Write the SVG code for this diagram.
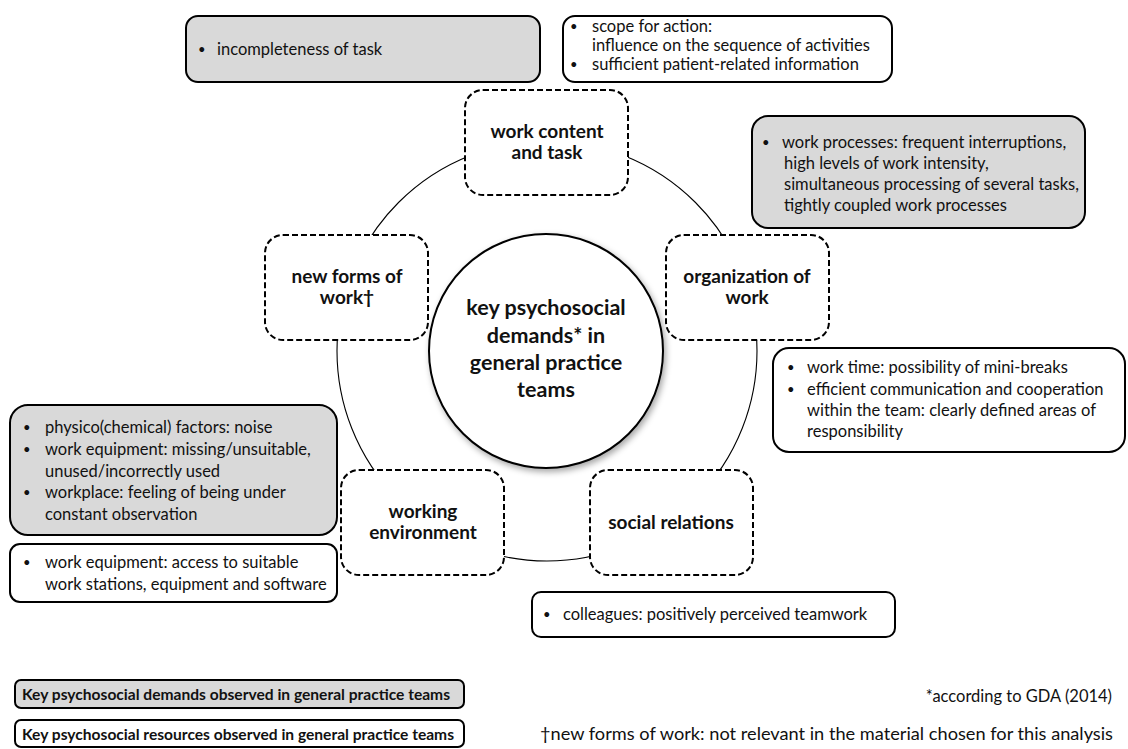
<svg xmlns="http://www.w3.org/2000/svg" width="1128" height="749" viewBox="0 0 1128 749">
<style>
text{font-family:Lato,"Liberation Sans",sans-serif;fill:#111}
.t{font-size:16.5px}
.bu{font-size:13px}
.b{font-size:19px;font-weight:bold;text-anchor:middle}
.c{font-size:21.5px;font-weight:bold;text-anchor:middle}
.lg{font-size:16px;font-weight:bold}
.fn{font-size:17.5px}
.dem{fill:#d9d9d9;stroke:#000;stroke-width:2}
.res{fill:#fff;stroke:#000;stroke-width:2}
.node{fill:#fff;stroke:#000;stroke-width:2;stroke-dasharray:6 3}
</style>
<defs>
<filter id="sh" x="-20%" y="-20%" width="140%" height="140%">
<feDropShadow dx="2" dy="3" stdDeviation="3" flood-color="#000" flood-opacity="0.35"/>
</filter>
</defs>
<rect width="1128" height="749" fill="#fff"/>
<g id="connectors">
<circle cx="547" cy="351" r="210" fill="none" stroke="#000" stroke-width="1.1"/>
</g>
<g id="center">
<circle cx="546" cy="351" r="117" fill="#fff" stroke="#000" stroke-width="2" filter="url(#sh)"/>
<text class="c" x="546" y="315">key psychosocial</text>
<text class="c" x="546" y="343">demands* in</text>
<text class="c" x="546" y="370">general practice</text>
<text class="c" x="546" y="397">teams</text>
</g>
<g id="node-work-content">
<rect class="node" x="465" y="90" width="163" height="105" rx="18"/>
<text class="b" x="547" y="138">work content</text>
<text class="b" x="547" y="159">and task</text>
</g>
<g id="node-new-forms">
<rect class="node" x="265" y="235" width="163" height="105" rx="18"/>
<text class="b" x="347" y="283">new forms of</text>
<text class="b" x="347" y="304">work†</text>
</g>
<g id="node-organization">
<rect class="node" x="666" y="235" width="163" height="105" rx="18"/>
<text class="b" x="747" y="283">organization of</text>
<text class="b" x="747" y="304">work</text>
</g>
<g id="node-working-env">
<rect class="node" x="341" y="470" width="163" height="105" rx="18"/>
<text class="b" x="423" y="518">working</text>
<text class="b" x="423" y="539">environment</text>
</g>
<g id="node-social">
<rect class="node" x="590" y="470" width="163" height="105" rx="18"/>
<text class="b" x="671" y="529">social relations</text>
</g>
<g id="box-incompleteness">
<rect class="dem" x="186" y="16" width="354" height="66" rx="12"/>
<text class="t bu" x="198" y="54">•</text>
<text class="t" x="217" y="55">incompleteness of task</text>
</g>
<g id="box-scope">
<rect class="res" x="563" y="16" width="329" height="66" rx="12"/>
<text class="t bu" x="570" y="31">•</text>
<text class="t" x="592" y="32">scope for action:</text>
<text class="t" x="592" y="51">influence on the sequence of activities</text>
<text class="t bu" x="570" y="69">•</text>
<text class="t" x="592" y="70">sufficient patient-related information</text>
</g>
<g id="box-work-processes">
<rect class="dem" x="752" y="116" width="333" height="112" rx="16"/>
<text class="t bu" x="762" y="147">•</text>
<text class="t" x="782" y="148">work processes: frequent interruptions,</text>
<text class="t" x="784" y="169">high levels of work intensity,</text>
<text class="t" x="784" y="190">simultaneous processing  of several tasks,</text>
<text class="t" x="784" y="211">tightly coupled work processes</text>
</g>
<g id="box-work-time">
<rect class="res" x="773" y="348" width="352" height="104" rx="16"/>
<text class="t bu" x="787" y="372">•</text>
<text class="t" x="807" y="373">work time: possibility of mini-breaks</text>
<text class="t bu" x="787" y="394">•</text>
<text class="t" x="807" y="395">efficient communication and cooperation</text>
<text class="t" x="807" y="416">within the team: clearly defined areas of</text>
<text class="t" x="807" y="437">responsibility</text>
</g>
<g id="box-physico">
<rect class="dem" x="10" y="405" width="327" height="130" rx="18"/>
<text class="t bu" x="23" y="432">•</text>
<text class="t" x="45" y="433">physico(chemical) factors: noise</text>
<text class="t bu" x="23" y="454">•</text>
<text class="t" x="45" y="455">work equipment: missing/unsuitable,</text>
<text class="t" x="45" y="477">unused/incorrectly used</text>
<text class="t bu" x="23" y="497">•</text>
<text class="t" x="45" y="498">workplace: feeling of being under</text>
<text class="t" x="45" y="520">constant observation</text>
</g>
<g id="box-access">
<rect class="res" x="10" y="544" width="327" height="58" rx="10"/>
<text class="t bu" x="23" y="567">•</text>
<text class="t" x="45" y="568">work equipment: access to suitable</text>
<text class="t" x="45" y="590">work stations, equipment and software</text>
</g>
<g id="box-colleagues">
<rect class="res" x="532" y="592" width="363" height="45" rx="9"/>
<text class="t bu" x="543" y="619">•</text>
<text class="t" x="563" y="620">colleagues: positively perceived teamwork</text>
</g>
<g id="legend">
<rect class="dem" x="15" y="680" width="449" height="28" rx="6"/>
<text class="lg" x="22" y="700" textLength="428" lengthAdjust="spacingAndGlyphs">Key psychosocial demands observed in general practice teams</text>
<rect class="res" x="15" y="720" width="449" height="27" rx="6"/>
<text class="lg" x="22" y="740" textLength="432" lengthAdjust="spacingAndGlyphs">Key psychosocial resources observed in general practice teams</text>
</g>
<g id="notes">
<text class="t" x="1112" y="702" text-anchor="end">*according to GDA (2014)</text>
<text class="fn" x="540" y="740" textLength="573" lengthAdjust="spacingAndGlyphs">†new forms of work: not relevant in the material chosen for this analysis</text>
</g>
</svg>
